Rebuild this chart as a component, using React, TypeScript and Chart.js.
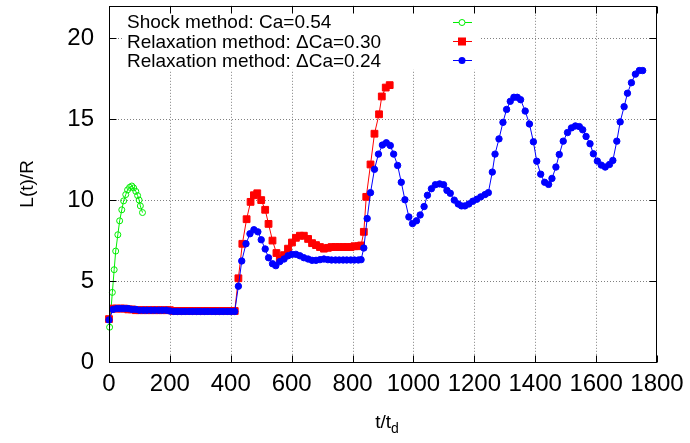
import React, { useEffect, useRef } from 'react';
import { Chart, registerables } from 'chart.js';

Chart.register(...registerables);

const FONT = '"Liberation Sans", Arial, Helvetica, sans-serif';

const xTicks = [0, 200, 400, 600, 800, 1000, 1200, 1400, 1600, 1800];
const yTicks = [0, 5, 10, 15, 20];
const legendLabels = [
  'Shock method: Ca=0.54',
  'Relaxation method: \u0394Ca=0.30',
  'Relaxation method: \u0394Ca=0.24',
];
const xTitleMain = 't/t';
const xTitleSub = 'd';
const yTitle = 'L(t)/R';

// Shock method: Ca=0.54 (green, open circles)
const shockT = [2, 11, 17, 22, 29, 35, 42, 48, 55, 61, 68, 75, 81, 88, 94, 99, 103, 110];
const shockL = [2.15, 4.3, 5.7, 6.85, 7.86, 8.72, 9.4, 9.95, 10.34, 10.63, 10.79, 10.87, 10.75, 10.54, 10.28, 10.0, 9.64, 9.23];

// Relaxation method: dCa=0.30 (red squares)
const relax30T = [
  0, 13, 25, 38, 50, 63, 75, 88, 100, 113, 125, 138, 150, 163, 175, 188, 200, 213, 225, 238,
  250, 263, 275, 288, 300, 313, 325, 338, 350, 363, 375, 388, 400, 413,
  425, 438, 452, 465, 476, 487, 500, 513, 524, 537,
  550, 561, 575, 588, 601, 614, 627, 640, 654, 667,
  680, 693, 706, 719, 731, 744, 756, 769, 781, 794,
  806, 819, 828, 837, 845, 859, 872, 887, 896, 909,
  922,
];
const relax30L = [
  2.65, 3.3, 3.3, 3.3, 3.3, 3.25, 3.25, 3.2, 3.2, 3.2, 3.2, 3.2, 3.2, 3.2, 3.2, 3.2, 3.2, 3.15, 3.15, 3.15,
  3.15, 3.15, 3.15, 3.15, 3.15, 3.15, 3.15, 3.15, 3.15, 3.15, 3.15, 3.15, 3.15, 3.15,
  5.17, 7.3, 8.82, 9.89, 10.3, 10.42, 10.0, 9.4, 8.53, 7.5,
  6.73, 6.4, 6.6, 7.0, 7.38, 7.67, 7.8, 7.8, 7.6, 7.34,
  7.22, 7.1, 7.0, 7.05, 7.1, 7.1, 7.1, 7.1, 7.1, 7.1,
  7.15, 7.15, 7.2, 8.04, 10.2, 12.2, 14.1, 15.3, 16.4, 16.95,
  17.1,
];

// Relaxation method: dCa=0.24 (blue filled circles)
const relax24T = [
  0, 13, 25, 38, 50, 63, 75, 88, 100, 113, 125, 138, 150, 163, 175, 188, 200, 213, 225, 238,
  250, 263, 275, 288, 300, 313, 325, 338, 350, 363, 375, 388, 400, 413,
  425, 436, 450, 463, 476, 489, 500, 513, 524, 537,
  548, 561, 575, 588, 601, 614, 627, 640, 654, 667,
  680, 693, 706, 719, 731, 744, 756, 769, 781, 794,
  806, 819, 828, 837, 848, 859, 872, 885, 898, 911,
  924, 935, 948, 960, 972, 985, 997, 1010, 1022, 1035,
  1046, 1059, 1072, 1086, 1099, 1110, 1121, 1134, 1147, 1158,
  1169, 1182, 1195, 1208, 1221, 1235, 1246, 1259, 1268, 1281,
  1294, 1306, 1318, 1330, 1341, 1352, 1367, 1381, 1394, 1405,
  1418, 1431, 1444, 1455, 1468, 1479, 1492, 1506, 1519, 1532,
  1545, 1556, 1567, 1580, 1591, 1604, 1617, 1630, 1644, 1655,
  1668, 1679, 1692, 1703, 1716, 1729, 1742, 1753,
];
const relax24L = [
  2.6, 3.25, 3.3, 3.3, 3.3, 3.3, 3.25, 3.25, 3.2, 3.2, 3.2, 3.2, 3.2, 3.2, 3.2, 3.2, 3.15, 3.12, 3.12, 3.12,
  3.12, 3.12, 3.12, 3.12, 3.12, 3.12, 3.12, 3.12, 3.12, 3.12, 3.12, 3.12, 3.12, 3.12,
  4.68, 6.24, 7.3, 7.92, 8.17, 8.04, 7.55, 6.98, 6.44, 6.07,
  5.95, 6.2, 6.36, 6.56, 6.65, 6.65, 6.56, 6.44, 6.36, 6.28,
  6.28, 6.32, 6.36, 6.32, 6.3, 6.3, 6.3, 6.3, 6.3, 6.3,
  6.3, 6.3, 6.32, 7.04, 8.86, 10.46, 11.9, 12.84, 13.4, 13.54,
  13.37, 12.84, 12.14, 11.1, 10.02, 8.96, 8.55, 8.72, 9.08, 9.6,
  10.3, 10.7, 10.95, 11.0, 10.95, 10.6, 10.42, 10.0, 9.76, 9.64,
  9.64, 9.76, 9.93, 10.05, 10.2, 10.34, 10.46, 11.73, 12.84, 13.78,
  14.8, 15.6, 16.1, 16.35, 16.35, 16.2, 15.5, 14.7, 13.6, 12.4,
  11.6, 11.1, 10.97, 11.34, 12.04, 12.82, 13.64, 14.17, 14.46, 14.58,
  14.54, 14.34, 13.93, 13.48, 12.86, 12.41, 12.16, 12.04, 12.2, 12.45,
  13.64, 14.83, 15.77, 16.6, 17.25, 17.78, 18.0, 18.0,
];

const GREEN = '#00ee00';
const RED = '#ff0000';
const BLUE = '#0000ff';

function pairs(t: number[], l: number[]) {
  const n = Math.min(t.length, l.length);
  const out: { x: number; y: number }[] = [];
  for (let i = 0; i < n; i++) out.push({ x: t[i], y: l[i] });
  return out;
}

function zeroPad(s: any) {
  s.paddingTop = 0;
  s.paddingBottom = 0;
  s.paddingLeft = 0;
  s.paddingRight = 0;
}

const framePlugin = {
  id: 'gnuFrame',
  beforeDatasetsDraw(chart: any) {
    const { ctx, chartArea: a, scales } = chart;
    const x = scales.x;
    const y = scales.y;
    ctx.save();
    ctx.strokeStyle = '#808080';
    ctx.lineWidth = 1;
    ctx.setLineDash([1, 2]);
    xTicks.forEach((v) => {
      if (v <= x.min || v >= x.max) return;
      const px = Math.round(x.getPixelForValue(v)) + 0.5;
      ctx.beginPath();
      ctx.moveTo(px, a.top);
      ctx.lineTo(px, a.bottom);
      ctx.stroke();
    });
    yTicks.forEach((v) => {
      if (v <= y.min || v >= y.max) return;
      const py = Math.round(y.getPixelForValue(v)) + 0.5;
      ctx.beginPath();
      ctx.moveTo(a.left, py);
      ctx.lineTo(a.right, py);
      ctx.stroke();
    });
    ctx.setLineDash([]);
    // key background
    ctx.fillStyle = '#ffffff';
    ctx.fillRect(a.left + 14, a.top + 4, 357, 60);
    ctx.restore();
  },
  afterDatasetsDraw(chart: any) {
    const { ctx, chartArea: a, scales } = chart;
    const x = scales.x;
    const y = scales.y;
    ctx.save();
    // border
    ctx.strokeStyle = '#000';
    ctx.lineWidth = 1;
    const L = Math.round(a.left) + 0.5;
    const R = Math.round(a.right) - 0.5;
    const T = Math.round(a.top) + 0.5;
    const B = Math.round(a.bottom) + 0.5;
    ctx.strokeRect(L, T, R - L, B - T);
    // inward ticks
    const tl = 7;
    ctx.beginPath();
    xTicks.forEach((v) => {
      const px = Math.round(x.getPixelForValue(v)) + 0.5;
      ctx.moveTo(px, B);
      ctx.lineTo(px, B - tl);
      ctx.moveTo(px, T);
      ctx.lineTo(px, T + tl);
    });
    yTicks.forEach((v) => {
      const py = Math.round(y.getPixelForValue(v)) + 0.5;
      ctx.moveTo(L, py);
      ctx.lineTo(L + tl, py);
      ctx.moveTo(R, py);
      ctx.lineTo(R - tl, py);
    });
    ctx.stroke();

    // key
    ctx.font = `19px ${FONT}`;
    ctx.fillStyle = '#000';
    ctx.textAlign = 'left';
    ctx.textBaseline = 'middle';
    const rows = [a.top + 16, a.top + 35.5, a.top + 54.5];
    const colors = [GREEN, RED, BLUE];
    const sx0 = a.left + 344;
    const sx1 = a.left + 363;
    const mx = a.left + 353;
    legendLabels.forEach((txt, i) => {
      const ry = rows[i];
      ctx.fillStyle = '#000';
      ctx.fillText(txt, a.left + 18, ry + 1);
      ctx.strokeStyle = colors[i];
      ctx.lineWidth = 1;
      ctx.beginPath();
      ctx.moveTo(sx0, Math.round(ry) + 0.5);
      ctx.lineTo(sx1, Math.round(ry) + 0.5);
      ctx.stroke();
      if (i === 0) {
        ctx.fillStyle = '#fff';
        ctx.beginPath();
        ctx.arc(mx, Math.round(ry) + 0.5, 3, 0, Math.PI * 2);
        ctx.fill();
        ctx.stroke();
      } else if (i === 1) {
        ctx.fillStyle = RED;
        ctx.fillRect(mx - 4, Math.round(ry) - 3.5, 8, 8);
      } else {
        ctx.fillStyle = BLUE;
        ctx.beginPath();
        ctx.arc(mx, Math.round(ry) + 0.5, 3.5, 0, Math.PI * 2);
        ctx.fill();
      }
    });

    // x title with subscript
    ctx.fillStyle = '#000';
    ctx.textBaseline = 'alphabetic';
    ctx.font = `19px ${FONT}`;
    const w1 = ctx.measureText(xTitleMain).width;
    ctx.font = `14px ${FONT}`;
    const w2 = ctx.measureText(xTitleSub).width;
    const cx = (a.left + a.right) / 2 + 4;
    const start = cx - (w1 + w2) / 2;
    ctx.font = `19px ${FONT}`;
    ctx.fillText(xTitleMain, start, 428);
    ctx.font = `14px ${FONT}`;
    ctx.fillText(xTitleSub, start + w1, 433);
    ctx.restore();
  },
};

export default function App() {
  const ref = useRef<HTMLCanvasElement>(null);
  useEffect(() => {
    document.body.style.margin = '0';
    const canvas = ref.current;
    if (!canvas) return;
    const chart = new Chart(canvas, {
      type: 'scatter',
      data: {
        datasets: [
          {
            label: legendLabels[0],
            data: pairs(shockT, shockL),
            showLine: true,
            borderColor: GREEN,
            backgroundColor: 'rgba(255,255,255,0)',
            borderWidth: 1,
            pointStyle: 'circle',
            pointRadius: 3,
            pointBorderWidth: 1,
            pointBorderColor: GREEN,
            pointBackgroundColor: 'rgba(255,255,255,0)',
            order: 2,
            clip: false,
          } as any,
          {
            label: legendLabels[1],
            data: pairs(relax30T, relax30L),
            showLine: true,
            borderColor: RED,
            backgroundColor: RED,
            borderWidth: 1,
            pointStyle: 'rect',
            pointRadius: 4.8,
            pointBorderWidth: 1,
            pointBorderColor: RED,
            pointBackgroundColor: RED,
            order: 1,
            clip: false,
          } as any,
          {
            label: legendLabels[2],
            data: pairs(relax24T, relax24L),
            showLine: true,
            borderColor: BLUE,
            backgroundColor: BLUE,
            borderWidth: 1,
            pointStyle: 'circle',
            pointRadius: 3.2,
            pointBorderWidth: 1,
            pointBorderColor: BLUE,
            pointBackgroundColor: BLUE,
            order: 0,
            clip: false,
          } as any,
        ],
      },
      options: {
        responsive: false,
        animation: false,
        devicePixelRatio: 1,
        layout: { padding: { top: 4, right: 33, left: 0, bottom: 0 } },
        elements: { line: { tension: 0 } },
        plugins: {
          legend: { display: false },
          tooltip: { enabled: false },
        },
        scales: {
          x: {
            type: 'linear',
            min: 0,
            max: 1800,
            afterFit(s: any) {
              s.height = 81;
              zeroPad(s);
            },
            afterBuildTicks(s: any) {
              s.ticks = xTicks.map((v) => ({ value: v }));
            },
            grid: { display: false, drawTicks: false },
            border: { display: false },
            ticks: {
              font: { family: FONT, size: 24 },
              color: '#000',
              padding: 8,
              maxRotation: 0,
              minRotation: 0,
              autoSkip: false,
              callback: (v: any) => String(v),
            },
          },
          y: {
            type: 'linear',
            min: 0,
            max: 22,
            afterFit(s: any) {
              s.width = 109;
              zeroPad(s);
            },
            afterBuildTicks(s: any) {
              s.ticks = yTicks.map((v) => ({ value: v }));
            },
            grid: { display: false, drawTicks: false },
            border: { display: false },
            ticks: {
              font: { family: FONT, size: 24 },
              color: '#000',
              padding: 15,
              autoSkip: false,
              callback: (v: any) => String(v),
            },
            title: {
              display: true,
              text: yTitle,
              color: '#000',
              font: { family: FONT, size: 19 },
              padding: { top: 16, bottom: 0 },
            },
          },
        },
      },
      plugins: [framePlugin],
    } as any);
    return () => chart.destroy();
  }, []);
  return (
    <div style={{ width: 690, height: 443, position: 'relative' }}>
      <canvas ref={ref} width={690} height={443} style={{ width: 690, height: 443, display: 'block' }} />
    </div>
  );
}
